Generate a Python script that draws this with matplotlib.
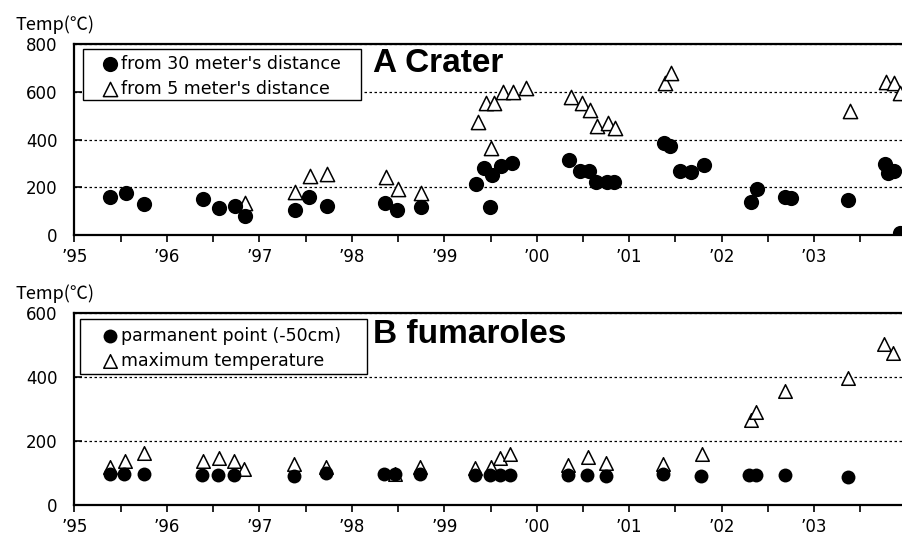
import matplotlib
matplotlib.use("Agg")
import matplotlib.pyplot as plt
from matplotlib.ticker import MultipleLocator, FixedLocator
from matplotlib.patches import Rectangle

plt.rcParams['font.family'] = ['DejaVu Sans']

# ---- Panel A: Crater ----
a30_year = [1995.39, 1995.56, 1995.75, 1996.39, 1996.56, 1996.74, 1996.85, 1997.39, 1997.54, 1997.73,
            1998.36, 1998.49, 1998.75, 1999.34, 1999.43, 1999.49, 1999.52, 1999.61, 1999.73,
            2000.35, 2000.47, 2000.57, 2000.64, 2000.76, 2000.83, 2001.38, 2001.44, 2001.55, 2001.67,
            2001.81, 2002.32, 2002.38, 2002.68, 2002.75, 2003.37, 2003.76, 2003.80, 2003.86, 2003.93]
a30_temp = [160, 177, 130, 151, 112, 123, 81, 105, 158, 121,
            135, 105, 116, 212, 279, 116, 251, 290, 303,
            314, 268, 268, 221, 221, 221, 387, 374, 268, 265,
            293, 140, 191, 160, 156, 147, 296, 258, 268, 7]

a5_year = [1996.85, 1997.39, 1997.55, 1997.73, 1998.37, 1998.50, 1998.75, 1999.36, 1999.45, 1999.50,
           1999.54, 1999.63, 1999.74, 1999.88, 2000.37, 2000.49, 2000.58, 2000.65, 2000.77, 2000.85,
           2001.39, 2001.45, 2003.39, 2003.78, 2003.86, 2003.93]
a5_temp = [133, 181, 247, 254, 244, 193, 175, 475, 554, 363,
           554, 597, 597, 617, 579, 551, 523, 456, 470, 447,
           638, 677, 520, 642, 635, 593]

# ---- Panel B: fumaroles ----
bp_year = [1995.39, 1995.54, 1995.75, 1996.38, 1996.55, 1996.73, 1997.37, 1997.72, 1998.35, 1998.47,
           1998.74, 1999.33, 1999.49, 1999.60, 1999.71, 2000.34, 2000.54, 2000.75, 2001.36, 2001.78,
           2002.30, 2002.37, 2002.68, 2003.36]
bp_temp = [96, 96, 96, 95, 95, 95, 92, 100, 97, 97,
           97, 94, 94, 94, 94, 94, 94, 91, 97, 91,
           95, 95, 94, 88]

bm_year = [1995.39, 1995.55, 1995.75, 1996.39, 1996.56, 1996.73, 1996.84, 1997.38, 1997.72, 1998.47,
           1998.74, 1999.33, 1999.50, 1999.60, 1999.71, 2000.34, 2000.55, 2000.75, 2001.36, 2001.79,
           2002.32, 2002.37, 2002.68, 2003.37, 2003.75, 2003.85]
bm_temp = [120, 138, 163, 138, 148, 137, 111, 128, 120, 97,
           120, 117, 120, 146, 158, 125, 151, 132, 127, 158,
           266, 292, 356, 396, 502, 474]

year_ticks = [1995, 1996, 1997, 1998, 1999, 2000, 2001, 2002, 2003]
year_labels = ["’95", "’96", "’97", "’98", "’99", "’00", "’01", "’02", "’03"]

fig = plt.figure(figsize=(9.03, 5.4), dpi=100)
ax1 = fig.add_axes([0.0823, 0.5648, 0.9177, 0.3537])
ax2 = fig.add_axes([0.0823, 0.0648, 0.9177, 0.3556])

def style(ax, ymax):
    ax.set_xlim(1995, 2003.96)
    ax.set_ylim(0, ymax)
    ax.xaxis.set_major_locator(FixedLocator(year_ticks))
    ax.set_xticklabels(year_labels)
    ax.xaxis.set_minor_locator(FixedLocator([y + 0.5 for y in year_ticks]))
    ax.yaxis.set_major_locator(MultipleLocator(200))
    ax.tick_params(axis='x', which='both', direction='out', length=5, width=1.2, pad=4,
                   labelsize=12, colors='black')
    ax.tick_params(axis='y', which='major', direction='in', length=6, width=1.2, pad=12,
                   labelsize=12)
    ax.spines['right'].set_visible(False)
    for s in ['left', 'top', 'bottom']:
        ax.spines[s].set_linewidth(1.6)
    ax.yaxis.grid(True, linestyle=(0, (2, 2)), color='black', linewidth=0.9)
    ax.set_axisbelow(True)

style(ax1, 800)
style(ax2, 600)

tri_kw = dict(marker='^', s=105, facecolors='white', edgecolors='black', linewidths=1.1, zorder=3)
dot_kw = dict(marker='o', s=120, color='black', linewidths=0, zorder=4)

h2 = ax1.scatter(a5_year, a5_temp, **tri_kw)
h1 = ax1.scatter(a30_year, a30_temp, **dot_kw)

g2 = ax2.scatter(bm_year, bm_temp, **dict(tri_kw, s=95))
g1 = ax2.scatter(bp_year, bp_temp, **dict(dot_kw, s=100))

# legend frames
ax1.add_patch(Rectangle((0.0105, 0.707), 0.3355, 0.267, transform=ax1.transAxes,
                        facecolor='white', edgecolor='black', linewidth=1.0, zorder=5))
ax2.add_patch(Rectangle((0.0069, 0.682), 0.3461, 0.287, transform=ax2.transAxes,
                        facecolor='white', edgecolor='black', linewidth=1.0, zorder=5))

leg_kw = dict(loc='center left', borderaxespad=0, borderpad=0, fontsize=12.5, frameon=False,
              labelspacing=0.4, handlelength=0.9, handletextpad=0.15, markerscale=1.0)
l1 = ax1.legend([h1, h2], ["from 30 meter's distance", "from 5 meter's distance"],
                bbox_to_anchor=(0.034, 0.832), **leg_kw)
l1.set_zorder(6)
l2 = ax2.legend([g1, g2], ["parmanent point (-50cm)", "maximum temperature"],
                bbox_to_anchor=(0.034, 0.815), **leg_kw)
l2.set_zorder(6)

ax1.text(0.3604, 0.90, "A Crater", transform=ax1.transAxes, fontsize=24, fontweight='bold',
         family='Liberation Sans', va='center', ha='left')
ax2.text(0.3604, 0.89, "B fumaroles", transform=ax2.transAxes, fontsize=24, fontweight='bold',
         family='Liberation Sans', va='center', ha='left')

fig.text(15 / 903, 1 - 25 / 540, "Temp(℃)", fontsize=13, va='center', ha='left',
         family=['Noto Sans CJK JP', 'DejaVu Sans'])
fig.text(15 / 903, 1 - 294 / 540, "Temp(℃)", fontsize=13, va='center', ha='left',
         family=['Noto Sans CJK JP', 'DejaVu Sans'])

fig.savefig("out.png", dpi=100)
